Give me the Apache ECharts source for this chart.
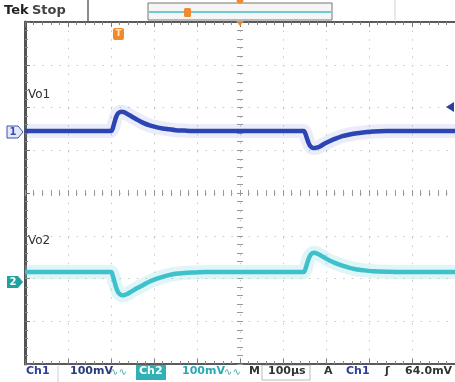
<!DOCTYPE html>
<html><head><meta charset="utf-8">
<script src="https://cdn.jsdelivr.net/npm/echarts@6/dist/echarts.min.js"></script>
<style>html,body{margin:0;padding:0;background:#fff;}#c{width:455px;height:382px;}</style>
</head><body><div id="c"></div>
<script>
// time in microseconds (100 µs/div, trigger at centre)
const timeUs = [-500,-300,-296,-292,-288,-284,-280,-275,-270,-262,-252,-240,-225,-210,-195,-180,-165,-150,-130,-110,-80,0,100,148,152,156,160,164,168,173,178,186,196,208,222,238,255,272,290,310,340,400,500];
// Vo1 deviation (mV), 100 mV/div
const vo1mV = [0,0,6,20,33,41,44,45,44,40,34,27,19,13,9,6,4,2,1,0,0,0,0,0,-6,-18,-29,-36,-39,-40,-39,-36,-30,-24,-18,-12,-8,-5,-3,-1,0,0,0];
// Vo2 deviation (mV), 100 mV/div
const vo2mV = [0,0,-8,-22,-36,-46,-51,-54,-54,-51,-45,-38,-30,-22,-16,-11,-7,-4,-2,-1,0,0,0,0,7,20,32,40,44,45,44,40,34,27,21,15,10,6,4,2,1,0,0];
const ch1OffsetMV = 145;
const ch2OffsetMV = -185;
const xMin = -500, xMax = 500, xStep = 100;
const yMin = -400, yMax = 400, yStep = 100;

const ch1Data = timeUs.map((t, i) => [t, vo1mV[i] + ch1OffsetMV]);
const ch2Data = timeUs.map((t, i) => [t, vo2mV[i] + ch2OffsetMV]);

const FONT = 'DejaVu Sans';
const gridRect = { left: 25, right: 0, top: 22, bottom: 18 };
const noLabel = { show: false };

function xAx(idx, extra) {
  return Object.assign({ gridIndex: idx, type: 'value', min: xMin, max: xMax, interval: xStep, axisLabel: noLabel }, extra);
}
function yAx(idx, extra) {
  return Object.assign({ gridIndex: idx, type: 'value', min: yMin, max: yMax, interval: yStep, axisLabel: noLabel }, extra);
}
const dotted = { show: true, lineStyle: { color: '#c6c6c6', width: 1, type: [1.5, 7.1] } };
const clearLine = { show: true, onZero: true, lineStyle: { color: 'rgba(0,0,0,0)' } };

const chart = echarts.init(document.getElementById('c'), null, { renderer: 'canvas' });
chart.setOption({
  backgroundColor: '#ffffff',
  animation: false,
  textStyle: { fontFamily: FONT },
  grid: [Object.assign({}, gridRect), Object.assign({}, gridRect), Object.assign({}, gridRect)],
  xAxis: [
    xAx(0, { position: 'bottom', axisLine: { onZero: false, lineStyle: { color: '#5a5a5a', width: 2 } },
      axisTick: { inside: true, length: 5, lineStyle: { color: '#777' } },
      minorTick: { show: true, splitNumber: 5, length: 3, lineStyle: { color: '#888' } }, splitLine: dotted }),
    xAx(0, { position: 'top', axisLine: { onZero: false, lineStyle: { color: '#5a5a5a', width: 2 } },
      axisTick: { inside: true, length: 5, lineStyle: { color: '#777' } },
      minorTick: { show: true, splitNumber: 5, length: 3, lineStyle: { color: '#888' } }, splitLine: { show: false } }),
    xAx(1, { axisLine: clearLine, axisTick: { inside: true, length: 3, lineStyle: { color: '#999' } },
      minorTick: { show: true, splitNumber: 5, length: 3, lineStyle: { color: '#999' } }, splitLine: { show: false } }),
    xAx(2, { axisLine: clearLine, axisTick: { inside: false, length: 3, lineStyle: { color: '#999' } },
      minorTick: { show: true, splitNumber: 5, length: 3, lineStyle: { color: '#999' } }, splitLine: { show: false } })
  ],
  yAxis: [
    yAx(0, { position: 'left', axisLine: { onZero: false, lineStyle: { color: '#555', width: 3 } },
      axisTick: { inside: true, length: 5, lineStyle: { color: '#777' } },
      minorTick: { show: true, splitNumber: 5, length: 3, lineStyle: { color: '#888' } }, splitLine: dotted }),
    yAx(1, { axisLine: clearLine, axisTick: { inside: true, length: 3, lineStyle: { color: '#999' } },
      minorTick: { show: true, splitNumber: 5, length: 3, lineStyle: { color: '#999' } }, splitLine: { show: false } }),
    yAx(2, { axisLine: clearLine, axisTick: { inside: false, length: 3, lineStyle: { color: '#999' } },
      minorTick: { show: true, splitNumber: 5, length: 3, lineStyle: { color: '#999' } }, splitLine: { show: false } })
  ],
  series: [
    { type: 'line', xAxisIndex: 0, yAxisIndex: 0, data: ch1Data, showSymbol: false, smooth: 0.3, z: 3,
      lineStyle: { color: '#7b8ae0', width: 14, opacity: 0.16 } },
    { type: 'line', xAxisIndex: 0, yAxisIndex: 0, data: ch1Data, showSymbol: false, smooth: 0.3, z: 4,
      lineStyle: { color: '#2c45b3', width: 4.5 } },
    { type: 'line', xAxisIndex: 0, yAxisIndex: 0, data: ch2Data, showSymbol: false, smooth: 0.3, z: 3,
      lineStyle: { color: '#8fdbe3', width: 14, opacity: 0.28 } },
    { type: 'line', xAxisIndex: 0, yAxisIndex: 0, data: ch2Data, showSymbol: false, smooth: 0.3, z: 4,
      lineStyle: { color: '#3fc1cc', width: 4.5 } }
  ],
  graphic: [
    // top bar
    { type: 'text', left: 4, top: 4, style: { text: 'Tek', font: 'bold 13px ' + FONT, fill: '#222' } },
    { type: 'text', left: 32, top: 4, style: { text: 'Stop', font: 'bold 13px ' + FONT, fill: '#444' } },
    { type: 'line', shape: { x1: 88, y1: 0, x2: 88, y2: 22 }, style: { stroke: '#666', lineWidth: 1.5 } },
    { type: 'rect', shape: { x: 148, y: 3, width: 184, height: 17 }, style: { fill: '#f5f5f5', stroke: '#777', lineWidth: 1 } },
    { type: 'line', shape: { x1: 149, y1: 12, x2: 331, y2: 12 }, style: { stroke: '#3fbcc8', lineWidth: 1.5 } },
    { type: 'rect', shape: { x: 184, y: 8, width: 7, height: 9, r: 1.5 }, style: { fill: '#f08a2c' } },
    { type: 'line', shape: { x1: 395, y1: 0, x2: 395, y2: 20 }, style: { stroke: '#d0d0d0', lineWidth: 1 } },
    { type: 'circle', shape: { cx: 240, cy: 0, r: 3.5 }, style: { fill: '#f08a2c' } },
    { type: 'polygon', shape: { points: [[236, 21], [244, 21], [240, 26]] }, style: { fill: '#f08a2c' }, z: 10 },
    // trigger marker "T"
    { type: 'rect', shape: { x: 113, y: 28, width: 11, height: 12, r: 2 }, style: { fill: '#f08a2c' }, z: 10 },
    { type: 'text', x: 118.5, y: 34, style: { text: 'T', font: 'bold 9px ' + FONT, fill: '#ffe9c8', align: 'center', verticalAlign: 'middle' }, z: 11 },
    // trace labels
    { type: 'text', left: 28, top: 89, style: { text: 'Vo1', font: '12px ' + FONT, fill: '#333' } },
    { type: 'text', left: 28, top: 235, style: { text: 'Vo2', font: '12px ' + FONT, fill: '#333' } },
    // channel ground markers
    { type: 'polygon', shape: { points: [[7, 126], [18, 126], [23, 132], [18, 138], [7, 138]] }, style: { fill: '#e4e8f7', stroke: '#3b52b0', lineWidth: 1 }, z: 10 },
    { type: 'text', x: 13, y: 132, style: { text: '1', font: 'bold 10px ' + FONT, fill: '#3b52b0', align: 'center', verticalAlign: 'middle' }, z: 11 },
    { type: 'polygon', shape: { points: [[7, 276], [18, 276], [23, 282], [18, 288], [7, 288]] }, style: { fill: '#1fa39f' }, z: 10 },
    { type: 'text', x: 13, y: 282, style: { text: '2', font: 'bold 10px ' + FONT, fill: '#ffffff', align: 'center', verticalAlign: 'middle' }, z: 11 },
    // trigger level arrow
    { type: 'polygon', shape: { points: [[446, 107], [454, 102], [454, 112]] }, style: { fill: '#2c3f9c' }, z: 10 },
    // bottom status bar
    { type: 'text', left: 26, top: 366, style: { text: 'Ch1', font: 'bold 11px ' + FONT, fill: '#2c3f9c' } },
    { type: 'line', shape: { x1: 58, y1: 366, x2: 58, y2: 382 }, style: { stroke: '#ccc', lineWidth: 1 } },
    { type: 'text', left: 70, top: 366, style: { text: '100mV', font: 'bold 11px ' + FONT, fill: '#2a3a7a' } },
    { type: 'text', left: 110, top: 367, style: { text: '∿∿', font: '10px ' + FONT, fill: '#4aa' } },
    { type: 'rect', shape: { x: 136, y: 365, width: 30, height: 15 }, style: { fill: '#2fb2b6' } },
    { type: 'text', left: 139, top: 366, style: { text: 'Ch2', font: 'bold 11px ' + FONT, fill: '#ffffff' } },
    { type: 'text', left: 182, top: 366, style: { text: '100mV', font: 'bold 11px ' + FONT, fill: '#2aa9b5' } },
    { type: 'text', left: 224, top: 367, style: { text: '∿∿', font: '10px ' + FONT, fill: '#4aa' } },
    { type: 'text', left: 249, top: 366, style: { text: 'M', font: 'bold 11px ' + FONT, fill: '#333' } },
    { type: 'rect', shape: { x: 262, y: 365, width: 48, height: 15 }, style: { fill: 'none', stroke: '#bbb', lineWidth: 1 } },
    { type: 'text', left: 268, top: 366, style: { text: '100µs', font: 'bold 11px ' + FONT, fill: '#333' } },
    { type: 'text', left: 324, top: 366, style: { text: 'A', font: 'bold 11px ' + FONT, fill: '#333' } },
    { type: 'text', left: 346, top: 366, style: { text: 'Ch1', font: 'bold 11px ' + FONT, fill: '#2c3f9c' } },
    { type: 'text', left: 385, top: 366, style: { text: 'ʃ', font: 'bold 11px ' + FONT, fill: '#333' } },
    { type: 'text', left: 405, top: 366, style: { text: '64.0mV', font: 'bold 11px ' + FONT, fill: '#333' } }
  ]
});
</script></body></html>
